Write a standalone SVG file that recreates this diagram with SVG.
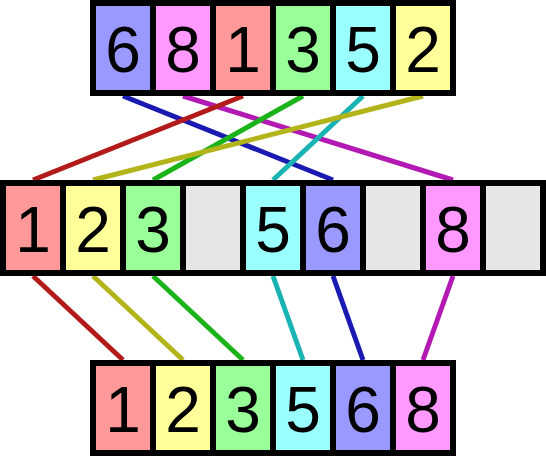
<svg xmlns="http://www.w3.org/2000/svg" width="546" height="456" viewBox="0 0 546 456">
<style>
.frame{fill:#000}
.c{stroke:none}
.r{fill:#ff9999}.y{fill:#ffff99}.g{fill:#99ff99}.cy{fill:#99ffff}.b{fill:#9999ff}.p{fill:#ff99ff}.e{fill:#e6e6e6}
text{font-family:"Liberation Sans",Arial,sans-serif;font-size:64px;fill:#000;text-anchor:middle}
.ln{stroke-width:5;fill:none}
</style>
<rect width="546" height="456" fill="#fff"/>
<g id="connectors">
<line class="ln" x1="123" y1="96" x2="333" y2="180" stroke="#1a1ab3"/>
<line class="ln" x1="183" y1="96" x2="453" y2="180" stroke="#b31ab3"/>
<line class="ln" x1="243" y1="96" x2="33" y2="180" stroke="#b31a1a"/>
<line class="ln" x1="303" y1="96" x2="153" y2="180" stroke="#1ab31a"/>
<line class="ln" x1="363" y1="96" x2="273" y2="180" stroke="#1ab3b3"/>
<line class="ln" x1="423" y1="96" x2="93" y2="180" stroke="#b3b31a"/>
<line class="ln" x1="33" y1="276" x2="123" y2="360" stroke="#b31a1a"/>
<line class="ln" x1="93" y1="276" x2="183" y2="360" stroke="#b3b31a"/>
<line class="ln" x1="153" y1="276" x2="243" y2="360" stroke="#1ab31a"/>
<line class="ln" x1="273" y1="276" x2="303" y2="360" stroke="#1ab3b3"/>
<line class="ln" x1="333" y1="276" x2="363" y2="360" stroke="#1a1ab3"/>
<line class="ln" x1="453" y1="276" x2="423" y2="360" stroke="#b31ab3"/>
</g>
<g id="input">
<rect class="frame" x="90" y="0" width="366" height="96"/>
<rect class="b" x="96" y="6" width="54" height="84"/><text x="123" y="72">6</text>
<rect class="p" x="156" y="6" width="54" height="84"/><text x="183" y="72">8</text>
<rect class="r" x="216" y="6" width="54" height="84"/><text x="243" y="72">1</text>
<rect class="g" x="276" y="6" width="54" height="84"/><text x="303" y="72">3</text>
<rect class="cy" x="336" y="6" width="54" height="84"/><text x="363" y="72">5</text>
<rect class="y" x="396" y="6" width="54" height="84"/><text x="423" y="72">2</text>
</g>
<g id="buckets">
<rect class="frame" x="0" y="180" width="546" height="96"/>
<rect class="r" x="6" y="186" width="54" height="84"/><text x="33" y="252">1</text>
<rect class="y" x="66" y="186" width="54" height="84"/><text x="93" y="252">2</text>
<rect class="g" x="126" y="186" width="54" height="84"/><text x="153" y="252">3</text>
<rect class="e" x="186" y="186" width="54" height="84"/>
<rect class="cy" x="246" y="186" width="54" height="84"/><text x="273" y="252">5</text>
<rect class="b" x="306" y="186" width="54" height="84"/><text x="333" y="252">6</text>
<rect class="e" x="366" y="186" width="54" height="84"/>
<rect class="p" x="426" y="186" width="54" height="84"/><text x="453" y="252">8</text>
<rect class="e" x="486" y="186" width="54" height="84"/>
</g>
<g id="output">
<rect class="frame" x="90" y="360" width="366" height="96"/>
<rect class="r" x="96" y="366" width="54" height="84"/><text x="123" y="432">1</text>
<rect class="y" x="156" y="366" width="54" height="84"/><text x="183" y="432">2</text>
<rect class="g" x="216" y="366" width="54" height="84"/><text x="243" y="432">3</text>
<rect class="cy" x="276" y="366" width="54" height="84"/><text x="303" y="432">5</text>
<rect class="b" x="336" y="366" width="54" height="84"/><text x="363" y="432">6</text>
<rect class="p" x="396" y="366" width="54" height="84"/><text x="423" y="432">8</text>
</g>
</svg>
